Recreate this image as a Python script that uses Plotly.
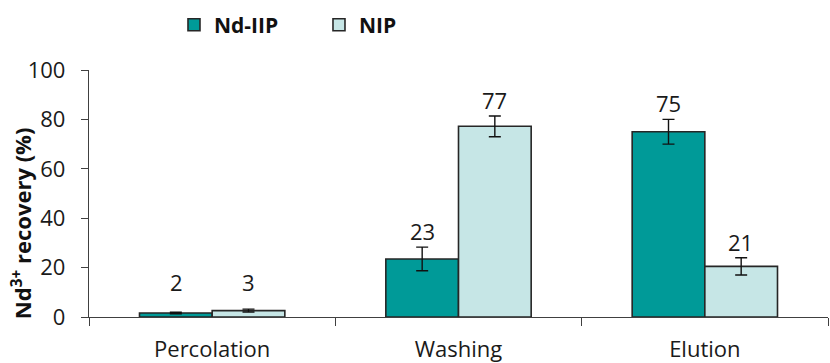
import plotly.graph_objects as go

categories = ["Percolation", "Washing", "Elution"]
nd_iip = [1.6, 23.5, 75.0]
nd_iip_err = [0.3, 4.8, 5.0]
nip = [2.6, 77.2, 20.5]
nip_err = [0.6, 4.2, 3.5]
nd_iip_labels = ["2", "23", "75"]
nip_labels = ["3", "77", "21"]

FONT = "'Open Sans', sans-serif"
TEAL = "#009A98"
LIGHT = "#C6E6E6"
EDGE = "#262626"
TXT = "#1a1a1a"

fig = go.Figure()
fig.add_trace(go.Bar(
    name="Nd-IIP", x=categories, y=nd_iip,
    marker=dict(color=TEAL, line=dict(color=EDGE, width=1.6)),
    error_y=dict(type="data", array=nd_iip_err, color="#111111", thickness=1.4, width=6),
))
fig.add_trace(go.Bar(
    name="NIP", x=categories, y=nip,
    marker=dict(color=LIGHT, line=dict(color=EDGE, width=1.6)),
    error_y=dict(type="data", array=nip_err, color="#111111", thickness=1.4, width=6),
))

for trace_idx, (vals, errs, labels) in enumerate([(nd_iip, nd_iip_err, nd_iip_labels), (nip, nip_err, nip_labels)]):
    for i, (v, e, lab) in enumerate(zip(vals, errs, labels)):
        fig.add_annotation(
            x=categories[i], y=max(v + e, 7.5), text=lab, showarrow=False,
            xref="x", yref="y", yanchor="middle", yshift=16,
            xshift=-36 if trace_idx == 0 else 36,
            font=dict(family=FONT, size=22, color=TXT),
        )

# y-axis title as rotated annotation
fig.add_annotation(
    xref="paper", yref="paper", x=-0.092, y=0.38, xanchor="center", yanchor="middle",
    text="<b>Nd<sup>3+</sup> recovery (%)</b>", textangle=-90, showarrow=False,
    font=dict(family=FONT, size=22, color="#111111"),
)

fig.update_layout(
    width=830, height=363,
    margin=dict(l=89, r=2, t=70, b=46, autoexpand=False),
    plot_bgcolor="white", paper_bgcolor="white",
    barmode="group", bargap=0.41, bargroupgap=0,
    font=dict(family=FONT, size=22, color=TXT),
    showlegend=True,
    legend=dict(orientation="h", x=0.115, xanchor="left", y=1.182, yanchor="middle",
                font=dict(family=FONT, size=21, color="#111111", weight="bold"),
                entrywidth=100, itemwidth=30, bgcolor="rgba(0,0,0,0)"),
)
fig.update_xaxes(
    showline=True, linecolor="#404040", linewidth=1.3,
    ticks="outside", ticklen=8, tickcolor="#404040", tickwidth=1.3,
    tickson="boundaries", ticklabelstandoff=12,
    tickfont=dict(family=FONT, size=22, color=TXT),
    showgrid=False, zeroline=False, automargin=False,
)
fig.update_yaxes(
    range=[0, 100], tickvals=[0, 20, 40, 60, 80, 100],
    showline=True, linecolor="#404040", linewidth=1.3,
    ticks="outside", ticklen=7, tickcolor="#404040", tickwidth=1.3,
    ticklabelstandoff=11,
    tickfont=dict(family=FONT, size=22, color=TXT),
    showgrid=False, zeroline=False, automargin=False,
)

fig.write_html("out.html", config={"displayModeBar": False},
               post_script="document.body.style.margin='0';document.body.style.overflow='hidden';")
